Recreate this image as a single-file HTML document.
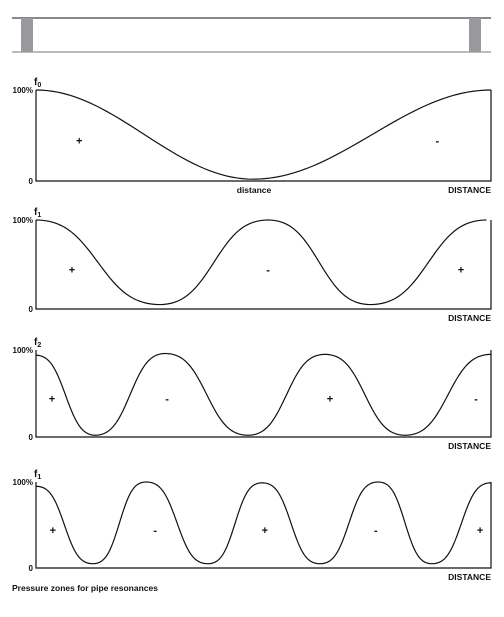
<!DOCTYPE html>
<html><head><meta charset="utf-8"><style>
body{margin:0;background:#fff;width:504px;height:612px;overflow:hidden}
text{font-family:"Liberation Sans",sans-serif;font-weight:bold;fill:#111}
</style></head><body>
<svg id="svg" width="504" height="612" viewBox="0 0 504 612" xmlns="http://www.w3.org/2000/svg">
<g>
<line x1="12" y1="18" x2="491" y2="18" stroke="#111" stroke-width="1"/>
<line x1="12" y1="52" x2="491" y2="52" stroke="#777" stroke-width="1"/>
<rect x="21" y="18" width="12" height="34" fill="#9a9a9e"/>
<rect x="469" y="18" width="12" height="34" fill="#9a9a9e"/>
</g>
<text x="12" y="591" font-size="8.5">Pressure zones for pipe resonances</text>
</svg>
<script>
// distance fractions (0..1) and amplitudes (%) of extrema for each panel
const f0X=[0,0.477,1];
const f0Y=[100,2,100];
const f1aX=[0,0.272,0.510,0.735,0.99];
const f1aY=[100,5,100,5,100];
const f2X=[0,0.130,0.284,0.466,0.635,0.811,1];
const f2Y=[94,2,96,2,95,2,95];
const f1bX=[0,0.125,0.242,0.378,0.497,0.624,0.752,0.870,1];
const f1bY=[95,5,100,5,99,5,100,5,99];
const f0Signs=["+","-"], f0SignX=[0.095,0.882];
const f1aSigns=["+","-","+"], f1aSignX=[0.079,0.510,0.934];
const f2Signs=["+","-","+","-"], f2SignX=[0.035,0.288,0.646,0.967];
const f1bSigns=["+","-","+","-","+"], f1bSignX=[0.037,0.262,0.503,0.747,0.976];
const panels=[
 {name:"f0",sub:"0",top:90,bot:181,xs:f0X,ys:f0Y,signs:f0Signs,sx:f0SignX,dist:true,sq:0},
 {name:"f1",sub:"1",top:220,bot:309,xs:f1aX,ys:f1aY,signs:f1aSigns,sx:f1aSignX,sq:0.45},
 {name:"f2",sub:"2",top:350,bot:437,xs:f2X,ys:f2Y,signs:f2Signs,sx:f2SignX,sq:0.5},
 {name:"f1-fourth",sub:"1",top:482,bot:568,xs:f1bX,ys:f1bY,signs:f1bSigns,sx:f1bSignX,sq:0.6}
];
const NS="http://www.w3.org/2000/svg", svg=document.getElementById('svg');
const L=36,R=491;
function mk(t,a,p){const e=document.createElementNS(NS,t);for(const k in a)e.setAttribute(k,a[k]);(p||svg).appendChild(e);return e;}
panels.forEach((p,i)=>{
 const g=mk('g',{});
 
 
 const X=v=>L+v*(R-L), Y=v=>p.bot-v/100*(p.bot-p.top);
 const ax=mk('path',{d:`M${L},${p.top}V${p.bot}H${R}V${p.top}`,fill:'none',stroke:'#111','stroke-width':1.2},g);
 
 
 let d=`M${X(p.xs[0])},${Y(p.ys[0])}`;
 for(let k=0;k<p.xs.length-1;k++){
  for(let s=1;s<=40;s++){const t=s/40,e1=(1-Math.cos(Math.PI*t))/2,e2=(1-Math.cos(Math.PI*e1))/2,e=e1*(1-p.sq)+e2*p.sq;
   d+=`L${X(p.xs[k]+(p.xs[k+1]-p.xs[k])*t).toFixed(2)},${Y(p.ys[k]+(p.ys[k+1]-p.ys[k])*e).toFixed(2)}`;}
 }
 const c=mk('path',{d,fill:'none',stroke:'#111','stroke-width':1.2},g);
 
 
 const t1=mk('text',{x:33,y:p.top+3,'font-size':8,'text-anchor':'end'},g);t1.textContent='100%';
 
 
 const t0=mk('text',{x:33,y:p.bot+3,'font-size':8,'text-anchor':'end'},g);t0.textContent='0';
 
 
 const tf=mk('text',{x:34,y:p.top-5,'font-size':10},g);tf.textContent='f';
 
 
 const ts=mk('tspan',{'font-size':7,dy:2},tf);ts.textContent=p.sub;
 const td=mk('text',{x:R,y:p.bot+12,'font-size':8.5,'text-anchor':'end'},g);td.textContent='DISTANCE';
 
 
 if(p.dist){const tt=mk('text',{x:254,y:p.bot+12,'font-size':8.5,'text-anchor':'middle'},g);tt.textContent='distance';
  
  }
 const sy=(p.top+p.bot)/2+9;
 p.signs.forEach((s,k)=>{const e=mk('text',{x:X(p.sx[k]),y:sy,'font-size':11,'text-anchor':'middle'},g);e.textContent=s;
  
  });
});
</script>
</body></html>
